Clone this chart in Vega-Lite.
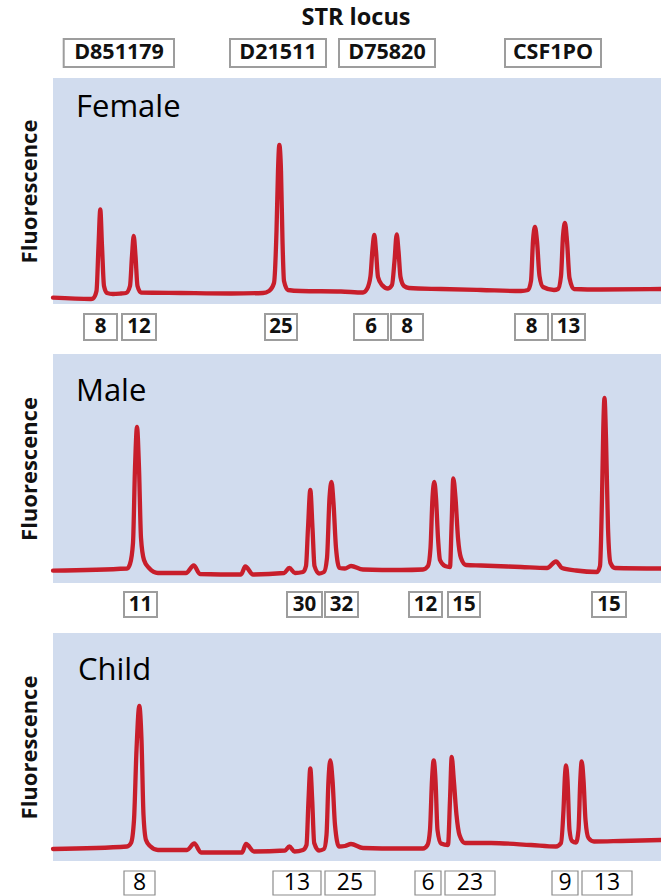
{
  "$schema": "https://vega.github.io/schema/vega-lite/v6.json",
  "padding": {"left": 18, "top": 0, "right": 0, "bottom": 0},
  "background": "white",
  "config": {
    "view": {"stroke": null},
    "font": "Open Sans",
    "axisY": {"labels": false, "ticks": false, "domain": false, "grid": false, "titleFontSize": 22, "titleFontWeight": "bold", "titleFont": "Open Sans", "titlePadding": 12, "minExtent": 0, "titleColor": "#111111"}
  },
  "datasets": {
    "headerBoxes": [
      {"label": "D851179", "x1": 10.7, "x2": 121, "xc": 66},
      {"label": "D21511", "x1": 177, "x2": 273, "xc": 225},
      {"label": "D75820", "x1": 286, "x2": 382, "xc": 334},
      {"label": "CSF1PO", "x1": 452, "x2": 548, "xc": 500}
    ],
    "female": [
      {"x": 0, "v": 6.3}, {"x": 38, "v": 5}, {"x": 40, "v": 5.5}, {"x": 43.5, "v": 13}, {"x": 45.5, "v": 58}, {"x": 47.3, "v": 94.5}, {"x": 49, "v": 58}, {"x": 51, "v": 18}, {"x": 54, "v": 11}, {"x": 60, "v": 10},
      {"x": 68, "v": 10.5}, {"x": 73, "v": 11}, {"x": 77, "v": 18}, {"x": 79, "v": 48}, {"x": 80.7, "v": 68}, {"x": 82.5, "v": 48}, {"x": 84.5, "v": 18}, {"x": 88, "v": 11.5}, {"x": 128, "v": 11}, {"x": 178, "v": 10.5},
      {"x": 210, "v": 11}, {"x": 216, "v": 13}, {"x": 221, "v": 21}, {"x": 223.5, "v": 73}, {"x": 225, "v": 133}, {"x": 226.3, "v": 159}, {"x": 228, "v": 133}, {"x": 229.5, "v": 63}, {"x": 231, "v": 23}, {"x": 235, "v": 14},
      {"x": 248, "v": 13}, {"x": 288, "v": 12.5}, {"x": 310, "v": 11.5}, {"x": 314, "v": 15}, {"x": 317.5, "v": 28}, {"x": 319.5, "v": 55}, {"x": 321.3, "v": 69}, {"x": 323, "v": 53}, {"x": 325, "v": 27}, {"x": 329, "v": 19},
      {"x": 335, "v": 15.5}, {"x": 339, "v": 19}, {"x": 341.5, "v": 43}, {"x": 343.7, "v": 69.5}, {"x": 345.5, "v": 53}, {"x": 347.5, "v": 27}, {"x": 351, "v": 18}, {"x": 356, "v": 16}, {"x": 388, "v": 15}, {"x": 428, "v": 14},
      {"x": 468, "v": 13}, {"x": 475, "v": 14}, {"x": 478, "v": 23}, {"x": 480, "v": 63}, {"x": 482, "v": 77}, {"x": 484, "v": 63}, {"x": 486.5, "v": 28}, {"x": 490, "v": 17}, {"x": 501, "v": 14}, {"x": 505, "v": 15},
      {"x": 508, "v": 28}, {"x": 510, "v": 68}, {"x": 512, "v": 81}, {"x": 514, "v": 63}, {"x": 516.5, "v": 26}, {"x": 521, "v": 15}, {"x": 548, "v": 14.5}, {"x": 609, "v": 15}
    ],
    "femaleBoxes": [
      {"label": "8", "x1": 31, "x2": 64, "xc": 47.5},
      {"label": "12", "x1": 69, "x2": 103, "xc": 86},
      {"label": "25", "x1": 212, "x2": 244, "xc": 228},
      {"label": "6", "x1": 301, "x2": 335, "xc": 318},
      {"label": "8", "x1": 338, "x2": 370, "xc": 354},
      {"label": "8", "x1": 462, "x2": 495, "xc": 478.5},
      {"label": "13", "x1": 499, "x2": 532, "xc": 515.5}
    ],
    "male": [
      {"x": 0, "v": 12.3}, {"x": 74, "v": 14.5}, {"x": 77, "v": 19}, {"x": 80, "v": 40}, {"x": 82, "v": 115}, {"x": 84, "v": 156}, {"x": 86, "v": 115}, {"x": 88, "v": 45}, {"x": 91, "v": 23}, {"x": 96, "v": 15},
      {"x": 105, "v": 10}, {"x": 133, "v": 10}, {"x": 140.7, "v": 17.5}, {"x": 147, "v": 9}, {"x": 188, "v": 8.5}, {"x": 192.3, "v": 16.5}, {"x": 200, "v": 8.5}, {"x": 231, "v": 10}, {"x": 236.3, "v": 15}, {"x": 242, "v": 10},
      {"x": 250, "v": 11}, {"x": 253, "v": 17}, {"x": 255, "v": 55}, {"x": 257.3, "v": 93}, {"x": 259.5, "v": 55}, {"x": 261.5, "v": 17}, {"x": 266, "v": 9.5}, {"x": 271, "v": 11}, {"x": 274, "v": 25}, {"x": 276.5, "v": 85},
      {"x": 278.5, "v": 101}, {"x": 280.5, "v": 80}, {"x": 283, "v": 35}, {"x": 286.5, "v": 15}, {"x": 292, "v": 14.5}, {"x": 298, "v": 17}, {"x": 310, "v": 13.5}, {"x": 348, "v": 13}, {"x": 370, "v": 13.5}, {"x": 375, "v": 17},
      {"x": 377.5, "v": 35}, {"x": 379.5, "v": 85}, {"x": 381.3, "v": 101}, {"x": 383, "v": 85}, {"x": 385, "v": 45}, {"x": 387, "v": 23}, {"x": 392, "v": 17}, {"x": 397, "v": 16}, {"x": 398.5, "v": 55}, {"x": 400.3, "v": 104.5},
      {"x": 402.5, "v": 85}, {"x": 405, "v": 45}, {"x": 408, "v": 25}, {"x": 413, "v": 18}, {"x": 428, "v": 17.5}, {"x": 468, "v": 16}, {"x": 494, "v": 15}, {"x": 503, "v": 21.5}, {"x": 509, "v": 15}, {"x": 523, "v": 12.5},
      {"x": 544, "v": 11}, {"x": 547, "v": 17}, {"x": 549, "v": 85}, {"x": 550.3, "v": 155}, {"x": 551.5, "v": 185}, {"x": 553, "v": 145}, {"x": 555, "v": 55}, {"x": 557.5, "v": 20}, {"x": 562, "v": 15}, {"x": 609, "v": 14.5}
    ],
    "maleBoxes": [
      {"label": "11", "x1": 71, "x2": 104, "xc": 87.5},
      {"label": "30", "x1": 234, "x2": 269, "xc": 251.5},
      {"label": "32", "x1": 272, "x2": 305, "xc": 288.5},
      {"label": "12", "x1": 356, "x2": 389, "xc": 372.5},
      {"label": "15", "x1": 395, "x2": 427, "xc": 411},
      {"label": "15", "x1": 539, "x2": 573, "xc": 556}
    ],
    "child": [
      {"x": 0, "v": 12}, {"x": 74, "v": 14.5}, {"x": 78, "v": 18}, {"x": 81, "v": 41}, {"x": 83.5, "v": 111}, {"x": 86.3, "v": 155}, {"x": 88.5, "v": 121}, {"x": 90.5, "v": 46}, {"x": 93, "v": 21}, {"x": 97, "v": 15},
      {"x": 105, "v": 11}, {"x": 134, "v": 11}, {"x": 141.3, "v": 17.5}, {"x": 148, "v": 8.5}, {"x": 189, "v": 8.5}, {"x": 193, "v": 17}, {"x": 201, "v": 9.5}, {"x": 232, "v": 10.5}, {"x": 236.3, "v": 14.5}, {"x": 241.5, "v": 9.5},
      {"x": 250, "v": 11}, {"x": 253.5, "v": 16}, {"x": 255.5, "v": 61}, {"x": 257.3, "v": 92.5}, {"x": 259.2, "v": 61}, {"x": 261.2, "v": 18}, {"x": 266, "v": 10.5}, {"x": 271, "v": 12}, {"x": 273.5, "v": 26}, {"x": 275.5, "v": 81},
      {"x": 277.3, "v": 100.5}, {"x": 279.5, "v": 81}, {"x": 282, "v": 36}, {"x": 286, "v": 14.5}, {"x": 292, "v": 15}, {"x": 298, "v": 17}, {"x": 310, "v": 13}, {"x": 348, "v": 12.5}, {"x": 370, "v": 12.5}, {"x": 374.5, "v": 16},
      {"x": 377, "v": 31}, {"x": 379, "v": 81}, {"x": 380.7, "v": 100.5}, {"x": 382.5, "v": 81}, {"x": 384.5, "v": 31}, {"x": 388, "v": 17.5}, {"x": 395, "v": 16}, {"x": 397, "v": 61}, {"x": 398.7, "v": 104}, {"x": 400.8, "v": 81},
      {"x": 403.5, "v": 46}, {"x": 406.5, "v": 26}, {"x": 412, "v": 18}, {"x": 438, "v": 18}, {"x": 478, "v": 16}, {"x": 503, "v": 14.5}, {"x": 508, "v": 18}, {"x": 510.5, "v": 51}, {"x": 512, "v": 86}, {"x": 513, "v": 95.5},
      {"x": 514.5, "v": 81}, {"x": 516.5, "v": 31}, {"x": 519, "v": 20}, {"x": 523, "v": 18.5}, {"x": 525.5, "v": 31}, {"x": 527.3, "v": 81}, {"x": 528.7, "v": 99.5}, {"x": 530.5, "v": 81}, {"x": 532.5, "v": 41}, {"x": 535.5, "v": 23},
      {"x": 541, "v": 19.5}, {"x": 568, "v": 20}, {"x": 609, "v": 21}
    ],
    "childBoxes": [
      {"label": "8", "x1": 71, "x2": 102, "xc": 86.5},
      {"label": "13", "x1": 220, "x2": 268, "xc": 244},
      {"label": "25", "x1": 272, "x2": 322, "xc": 297},
      {"label": "6", "x1": 362, "x2": 388, "xc": 375},
      {"label": "23", "x1": 392, "x2": 442, "xc": 417},
      {"label": "9", "x1": 499, "x2": 525, "xc": 512},
      {"label": "13", "x1": 529, "x2": 579, "xc": 554}
    ]
  },
  "bounds": "flush",
  "spacing": 0,
  "vconcat": [
    {
      "width": 609,
      "height": 78,
      "layer": [
        {
          "data": {"values": [{"t": "STR locus", "x": 303, "v": 60.5}]},
          "mark": {"type": "text", "fontSize": 23.5, "fontWeight": "bold", "font": "Open Sans", "align": "center", "baseline": "middle", "color": "#111111"},
          "encoding": {
            "x": {"field": "x", "type": "quantitative", "scale": {"domain": [0, 609], "nice": false, "zero": false}, "axis": null},
            "y": {"field": "v", "type": "quantitative", "scale": {"domain": [0, 78], "nice": false}, "axis": null},
            "text": {"field": "t"}
          }
        },
        {
          "data": {"name": "headerBoxes"},
          "mark": {"type": "rect", "fill": "white", "stroke": "#9d9d9d", "strokeWidth": 2},
          "encoding": {
            "x": {"field": "x1", "type": "quantitative", "scale": {"domain": [0, 609], "nice": false, "zero": false}, "axis": null},
            "x2": {"field": "x2"},
            "y": {"datum": 39, "type": "quantitative", "scale": {"domain": [0, 78], "nice": false}, "axis": null},
            "y2": {"datum": 11}
          }
        },
        {
          "data": {"name": "headerBoxes"},
          "mark": {"type": "text", "fontSize": 21.5, "fontWeight": "bold", "font": "Open Sans", "align": "center", "baseline": "middle", "color": "#111111"},
          "encoding": {
            "x": {"field": "xc", "type": "quantitative", "scale": {"domain": [0, 609], "nice": false, "zero": false}, "axis": null},
            "y": {"datum": 25, "type": "quantitative", "scale": {"domain": [0, 78], "nice": false}, "axis": null},
            "text": {"field": "label"}
          }
        }
      ]
    },
    {
      "bounds": "flush",
      "spacing": 50,
      "vconcat": [
        {
          "width": 609,
          "height": 226,
          "view": {"fill": "#d1dcee", "stroke": null},
          "layer": [
            {
              "data": {"name": "female"},
              "mark": {"type": "line", "color": "#c81e2b", "strokeWidth": 4.3, "interpolate": "monotone", "strokeJoin": "round", "strokeCap": "round"},
              "encoding": {
                "x": {"field": "x", "type": "quantitative", "scale": {"domain": [0, 609], "nice": false, "zero": false}, "axis": null},
                "y": {"field": "v", "type": "quantitative", "scale": {"domain": [0, 226], "nice": false}, "title": "Fluorescence"}
              }
            },
            {
              "data": {"values": [{"name": "Female", "x": 23, "v": 187}]},
              "mark": {"type": "text", "align": "left", "baseline": "alphabetic", "fontSize": 31, "font": "Open Sans", "color": "#000000"},
              "encoding": {
                "x": {"field": "x", "type": "quantitative", "scale": {"domain": [0, 609], "nice": false, "zero": false}, "axis": null},
                "y": {"field": "v", "type": "quantitative", "scale": {"domain": [0, 226], "nice": false}, "title": "Fluorescence"},
                "text": {"field": "name"}
              }
            },
            {
              "data": {"name": "femaleBoxes"},
              "mark": {"type": "rect", "fill": "white", "stroke": "#9d9d9d", "strokeWidth": 2},
              "encoding": {
                "x": {"field": "x1", "type": "quantitative", "scale": {"domain": [0, 609], "nice": false, "zero": false}, "axis": null},
                "x2": {"field": "x2"},
                "y": {"datum": -10, "type": "quantitative", "scale": {"domain": [0, 226], "nice": false}, "title": "Fluorescence"},
                "y2": {"datum": -36}
              }
            },
            {
              "data": {"name": "femaleBoxes"},
              "mark": {"type": "text", "fontSize": 20.5, "fontWeight": "bold", "font": "Open Sans", "align": "center", "baseline": "middle", "color": "#111111"},
              "encoding": {
                "x": {"field": "xc", "type": "quantitative", "scale": {"domain": [0, 609], "nice": false, "zero": false}, "axis": null},
                "y": {"datum": -23, "type": "quantitative", "scale": {"domain": [0, 226], "nice": false}, "title": "Fluorescence"},
                "text": {"field": "label"}
              }
            }
          ]
        },
        {
          "width": 609,
          "height": 229,
          "view": {"fill": "#d1dcee", "stroke": null},
          "layer": [
            {
              "data": {"name": "male"},
              "mark": {"type": "line", "color": "#c81e2b", "strokeWidth": 4.3, "interpolate": "monotone", "strokeJoin": "round", "strokeCap": "round"},
              "encoding": {
                "x": {"field": "x", "type": "quantitative", "scale": {"domain": [0, 609], "nice": false, "zero": false}, "axis": null},
                "y": {"field": "v", "type": "quantitative", "scale": {"domain": [0, 229], "nice": false}, "title": "Fluorescence"}
              }
            },
            {
              "data": {"values": [{"name": "Male", "x": 23, "v": 182}]},
              "mark": {"type": "text", "align": "left", "baseline": "alphabetic", "fontSize": 31, "font": "Open Sans", "color": "#000000"},
              "encoding": {
                "x": {"field": "x", "type": "quantitative", "scale": {"domain": [0, 609], "nice": false, "zero": false}, "axis": null},
                "y": {"field": "v", "type": "quantitative", "scale": {"domain": [0, 229], "nice": false}, "title": "Fluorescence"},
                "text": {"field": "name"}
              }
            },
            {
              "data": {"name": "maleBoxes"},
              "mark": {"type": "rect", "fill": "white", "stroke": "#9d9d9d", "strokeWidth": 2},
              "encoding": {
                "x": {"field": "x1", "type": "quantitative", "scale": {"domain": [0, 609], "nice": false, "zero": false}, "axis": null},
                "x2": {"field": "x2"},
                "y": {"datum": -9, "type": "quantitative", "scale": {"domain": [0, 229], "nice": false}, "title": "Fluorescence"},
                "y2": {"datum": -34}
              }
            },
            {
              "data": {"name": "maleBoxes"},
              "mark": {"type": "text", "fontSize": 20.5, "fontWeight": "bold", "font": "Open Sans", "align": "center", "baseline": "middle", "color": "#111111"},
              "encoding": {
                "x": {"field": "xc", "type": "quantitative", "scale": {"domain": [0, 609], "nice": false, "zero": false}, "axis": null},
                "y": {"datum": -21.5, "type": "quantitative", "scale": {"domain": [0, 229], "nice": false}, "title": "Fluorescence"},
                "text": {"field": "label"}
              }
            }
          ]
        },
        {
          "width": 609,
          "height": 228,
          "view": {"fill": "#d1dcee", "stroke": null},
          "layer": [
            {
              "data": {"name": "child"},
              "mark": {"type": "line", "color": "#c81e2b", "strokeWidth": 4.3, "interpolate": "monotone", "strokeJoin": "round", "strokeCap": "round"},
              "encoding": {
                "x": {"field": "x", "type": "quantitative", "scale": {"domain": [0, 609], "nice": false, "zero": false}, "axis": null},
                "y": {"field": "v", "type": "quantitative", "scale": {"domain": [0, 228], "nice": false}, "title": "Fluorescence"}
              }
            },
            {
              "data": {"values": [{"name": "Child", "x": 25, "v": 181}]},
              "mark": {"type": "text", "align": "left", "baseline": "alphabetic", "fontSize": 31, "font": "Open Sans", "color": "#000000"},
              "encoding": {
                "x": {"field": "x", "type": "quantitative", "scale": {"domain": [0, 609], "nice": false, "zero": false}, "axis": null},
                "y": {"field": "v", "type": "quantitative", "scale": {"domain": [0, 228], "nice": false}, "title": "Fluorescence"},
                "text": {"field": "name"}
              }
            },
            {
              "data": {"name": "childBoxes"},
              "mark": {"type": "rect", "fill": "white", "stroke": "#8c8c8c", "strokeWidth": 1.2},
              "encoding": {
                "x": {"field": "x1", "type": "quantitative", "scale": {"domain": [0, 609], "nice": false, "zero": false}, "axis": null},
                "x2": {"field": "x2"},
                "y": {"datum": -10, "type": "quantitative", "scale": {"domain": [0, 228], "nice": false}, "title": "Fluorescence"},
                "y2": {"datum": -34}
              }
            },
            {
              "data": {"name": "childBoxes"},
              "mark": {"type": "text", "fontSize": 23, "font": "Open Sans", "align": "center", "baseline": "middle", "color": "#000000"},
              "encoding": {
                "x": {"field": "xc", "type": "quantitative", "scale": {"domain": [0, 609], "nice": false, "zero": false}, "axis": null},
                "y": {"datum": -22, "type": "quantitative", "scale": {"domain": [0, 228], "nice": false}, "title": "Fluorescence"},
                "text": {"field": "label"}
              }
            }
          ]
        }
      ]
    }
  ]
}
